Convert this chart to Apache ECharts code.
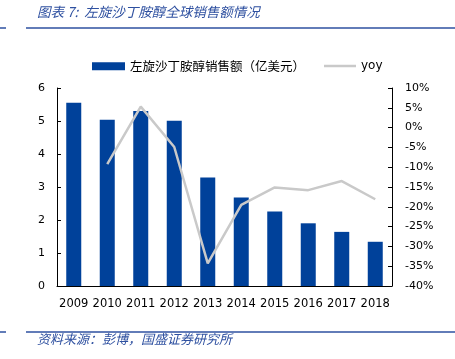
<!DOCTYPE html>
<html><head><meta charset="utf-8">
<script src="https://cdn.jsdelivr.net/npm/echarts@6/dist/echarts.min.js"></script>
<style>html,body{margin:0;padding:0;background:#fff}#c{width:455px;height:359px}</style>
</head><body><div id="c"></div>
<script>
const categories = ['2009','2010','2011','2012','2013','2014','2015','2016','2017','2018'];
const sales = [5.55, 5.04, 5.30, 5.01, 3.29, 2.68, 2.26, 1.90, 1.64, 1.34];
const yoy = [null, -9.2, 5.3, -4.9, -34.3, -19.5, -15.1, -15.8, -13.5, -18.1];
const leftTicks = {min: 0, max: 6, interval: 1};
const rightTicks = {min: -40, max: 10, interval: 5};
const titleText = '图表 7:  左旋沙丁胺醇全球销售额情况';
const sourceText = '资料来源：彭博，国盛证券研究所';
const barName = '左旋沙丁胺醇销售额（亿美元）';
const lineName = 'yoy';

const axisFont = {fontFamily: 'DejaVu Sans', fontSize: 11, color: '#000'};
const chart = echarts.init(document.getElementById('c'));
chart.setOption({
  animation: false,
  grid: {left: 57, right: 63, top: 88, bottom: 73},
  graphic: [
    {type: 'text', left: 37, top: 5, style: {text: titleText, font: 'italic 13.5px "Noto Sans CJK SC"', fill: '#2E50A0'}},
    {type: 'line', shape: {x1: 0, y1: 28, x2: 6, y2: 28}, style: {stroke: '#2E50A0', lineWidth: 1.5}},
    {type: 'line', shape: {x1: 26, y1: 28, x2: 455, y2: 28}, style: {stroke: '#2E50A0', lineWidth: 1.5}},
    {type: 'line', shape: {x1: 0, y1: 332, x2: 6, y2: 332}, style: {stroke: '#2E50A0', lineWidth: 1.5}},
    {type: 'line', shape: {x1: 26, y1: 332, x2: 455, y2: 332}, style: {stroke: '#2E50A0', lineWidth: 1.5}},
    {type: 'text', left: 37, top: 333, style: {text: sourceText, font: 'italic 13px "Noto Sans CJK SC"', fill: '#2E50A0'}}
  ],
  legend: [
    {data: [{name: barName, icon: 'rect'}], left: 92, top: 60, padding: 0, itemWidth: 33, itemHeight: 8, itemGap: 5,
     textStyle: {fontFamily: 'Noto Sans CJK SC', fontSize: 12.5, color: '#000'}},
    {data: [{name: lineName, icon: 'rect'}], left: 324, top: 60, padding: 0, itemWidth: 32, itemHeight: 2.5,
     textStyle: {fontFamily: 'DejaVu Sans', fontSize: 12, color: '#000'}}
  ],
  xAxis: {
    type: 'category', data: categories,
    axisLine: {lineStyle: {color: '#000', width: 1}},
    axisTick: {inside: true, length: 4, lineStyle: {color: '#000'}},
    axisLabel: Object.assign({margin: 12, interval: 0}, axisFont, {fontSize: 11.5})
  },
  yAxis: [
    {type: 'value', min: leftTicks.min, max: leftTicks.max, interval: leftTicks.interval,
     splitLine: {show: false},
     axisLine: {show: true, lineStyle: {color: '#000'}},
     axisTick: {show: true, inside: true, length: 4, lineStyle: {color: '#000'}},
     axisLabel: Object.assign({margin: 12}, axisFont)},
    {type: 'value', min: rightTicks.min, max: rightTicks.max, interval: rightTicks.interval,
     splitLine: {show: false},
     axisLine: {show: true, lineStyle: {color: '#000'}},
     axisTick: {show: true, inside: true, length: 4, lineStyle: {color: '#000'}},
     axisLabel: Object.assign({margin: 13, formatter: '{value}%'}, axisFont)}
  ],
  series: [
    {name: barName, type: 'bar', data: sales, barWidth: 15, itemStyle: {color: '#00419A'}},
    {name: lineName, type: 'line', yAxisIndex: 1, data: yoy, symbol: 'none', connectNulls: false,
     lineStyle: {color: '#C9C9C9', width: 2.5}, itemStyle: {color: '#C9C9C9'}}
  ]
});
</script></body></html>
